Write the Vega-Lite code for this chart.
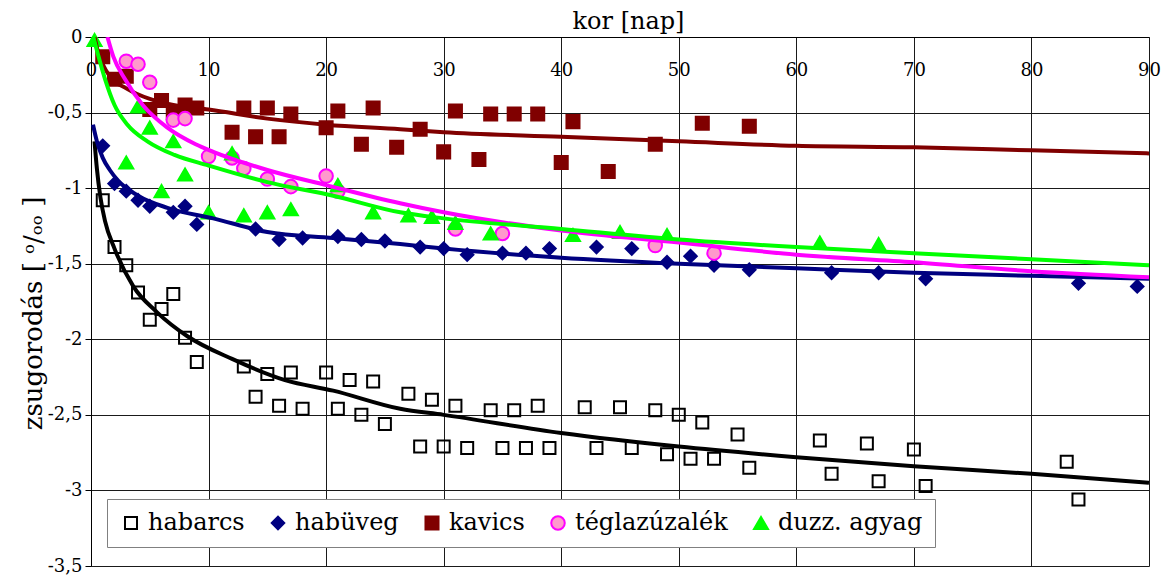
{
  "$schema": "https://vega.github.io/schema/vega-lite/v6.json",
  "width": 1058,
  "height": 529,
  "autosize": {"type": "none"},
  "padding": {"left": 91, "top": 37, "right": 16, "bottom": 13},
  "background": "white",
  "config": {
    "font": "DejaVu Serif",
    "view": {"stroke": null},
    "axis": {"domainColor": "black", "gridColor": "#1a1a1a", "tickColor": "black", "labelColor": "black", "titleColor": "black", "labelFont": "DejaVu Serif", "titleFont": "DejaVu Serif"},
    "legend": {"labelFont": "DejaVu Serif", "titleFont": "DejaVu Serif"}
  },
  "datasets": {
    "pts": [
      {"s": "habarcs", "x": 1, "y": -1.08}, {"s": "habarcs", "x": 2, "y": -1.39}, {"s": "habarcs", "x": 3, "y": -1.51}, {"s": "habarcs", "x": 4, "y": -1.69}, {"s": "habarcs", "x": 5, "y": -1.87}, {"s": "habarcs", "x": 6, "y": -1.8}, {"s": "habarcs", "x": 7, "y": -1.7}, {"s": "habarcs", "x": 8, "y": -1.99}, {"s": "habarcs", "x": 9, "y": -2.15},
      {"s": "habarcs", "x": 13, "y": -2.18}, {"s": "habarcs", "x": 14, "y": -2.38}, {"s": "habarcs", "x": 15, "y": -2.23}, {"s": "habarcs", "x": 16, "y": -2.44}, {"s": "habarcs", "x": 17, "y": -2.22}, {"s": "habarcs", "x": 18, "y": -2.46}, {"s": "habarcs", "x": 20, "y": -2.22}, {"s": "habarcs", "x": 21, "y": -2.46}, {"s": "habarcs", "x": 22, "y": -2.27}, {"s": "habarcs", "x": 23, "y": -2.5}, {"s": "habarcs", "x": 24, "y": -2.28}, {"s": "habarcs", "x": 25, "y": -2.56},
      {"s": "habarcs", "x": 27, "y": -2.36}, {"s": "habarcs", "x": 28, "y": -2.71}, {"s": "habarcs", "x": 29, "y": -2.4}, {"s": "habarcs", "x": 30, "y": -2.71}, {"s": "habarcs", "x": 31, "y": -2.44}, {"s": "habarcs", "x": 32, "y": -2.72}, {"s": "habarcs", "x": 34, "y": -2.47}, {"s": "habarcs", "x": 35, "y": -2.72}, {"s": "habarcs", "x": 36, "y": -2.47}, {"s": "habarcs", "x": 37, "y": -2.72}, {"s": "habarcs", "x": 38, "y": -2.44}, {"s": "habarcs", "x": 39, "y": -2.72},
      {"s": "habarcs", "x": 42, "y": -2.45}, {"s": "habarcs", "x": 43, "y": -2.72}, {"s": "habarcs", "x": 45, "y": -2.45}, {"s": "habarcs", "x": 46, "y": -2.72}, {"s": "habarcs", "x": 48, "y": -2.47}, {"s": "habarcs", "x": 49, "y": -2.76}, {"s": "habarcs", "x": 50, "y": -2.5}, {"s": "habarcs", "x": 51, "y": -2.79}, {"s": "habarcs", "x": 52, "y": -2.55}, {"s": "habarcs", "x": 53, "y": -2.79}, {"s": "habarcs", "x": 55, "y": -2.63}, {"s": "habarcs", "x": 56, "y": -2.85},
      {"s": "habarcs", "x": 62, "y": -2.67}, {"s": "habarcs", "x": 63, "y": -2.89}, {"s": "habarcs", "x": 66, "y": -2.69}, {"s": "habarcs", "x": 67, "y": -2.94}, {"s": "habarcs", "x": 70, "y": -2.73}, {"s": "habarcs", "x": 71, "y": -2.97}, {"s": "habarcs", "x": 83, "y": -2.81}, {"s": "habarcs", "x": 84, "y": -3.06},
      {"s": "habüveg", "x": 1, "y": -0.72}, {"s": "habüveg", "x": 2, "y": -0.97}, {"s": "habüveg", "x": 3, "y": -1.02}, {"s": "habüveg", "x": 4, "y": -1.08}, {"s": "habüveg", "x": 5, "y": -1.12}, {"s": "habüveg", "x": 7, "y": -1.16}, {"s": "habüveg", "x": 8, "y": -1.12}, {"s": "habüveg", "x": 9, "y": -1.24},
      {"s": "habüveg", "x": 14, "y": -1.27}, {"s": "habüveg", "x": 16, "y": -1.34}, {"s": "habüveg", "x": 18, "y": -1.33}, {"s": "habüveg", "x": 21, "y": -1.32}, {"s": "habüveg", "x": 23, "y": -1.34}, {"s": "habüveg", "x": 25, "y": -1.35}, {"s": "habüveg", "x": 28, "y": -1.39}, {"s": "habüveg", "x": 30, "y": -1.4}, {"s": "habüveg", "x": 32, "y": -1.44}, {"s": "habüveg", "x": 35, "y": -1.43}, {"s": "habüveg", "x": 37, "y": -1.43}, {"s": "habüveg", "x": 39, "y": -1.4},
      {"s": "habüveg", "x": 43, "y": -1.39}, {"s": "habüveg", "x": 46, "y": -1.4}, {"s": "habüveg", "x": 49, "y": -1.49}, {"s": "habüveg", "x": 51, "y": -1.45}, {"s": "habüveg", "x": 53, "y": -1.51}, {"s": "habüveg", "x": 56, "y": -1.54}, {"s": "habüveg", "x": 63, "y": -1.56}, {"s": "habüveg", "x": 67, "y": -1.56}, {"s": "habüveg", "x": 71, "y": -1.6}, {"s": "habüveg", "x": 84, "y": -1.63}, {"s": "habüveg", "x": 89, "y": -1.65},
      {"s": "kavics", "x": 1, "y": -0.13}, {"s": "kavics", "x": 2, "y": -0.28}, {"s": "kavics", "x": 3, "y": -0.26}, {"s": "kavics", "x": 5, "y": -0.48}, {"s": "kavics", "x": 6, "y": -0.42}, {"s": "kavics", "x": 7, "y": -0.5}, {"s": "kavics", "x": 8, "y": -0.45}, {"s": "kavics", "x": 9, "y": -0.47},
      {"s": "kavics", "x": 12, "y": -0.63}, {"s": "kavics", "x": 13, "y": -0.47}, {"s": "kavics", "x": 14, "y": -0.66}, {"s": "kavics", "x": 15, "y": -0.47}, {"s": "kavics", "x": 16, "y": -0.66}, {"s": "kavics", "x": 17, "y": -0.51}, {"s": "kavics", "x": 20, "y": -0.6}, {"s": "kavics", "x": 21, "y": -0.49}, {"s": "kavics", "x": 23, "y": -0.71}, {"s": "kavics", "x": 24, "y": -0.47}, {"s": "kavics", "x": 26, "y": -0.73},
      {"s": "kavics", "x": 28, "y": -0.61}, {"s": "kavics", "x": 30, "y": -0.76}, {"s": "kavics", "x": 31, "y": -0.49}, {"s": "kavics", "x": 33, "y": -0.81}, {"s": "kavics", "x": 34, "y": -0.51}, {"s": "kavics", "x": 36, "y": -0.51}, {"s": "kavics", "x": 38, "y": -0.51}, {"s": "kavics", "x": 40, "y": -0.83}, {"s": "kavics", "x": 41, "y": -0.56}, {"s": "kavics", "x": 44, "y": -0.89}, {"s": "kavics", "x": 48, "y": -0.71}, {"s": "kavics", "x": 52, "y": -0.57}, {"s": "kavics", "x": 56, "y": -0.59},
      {"s": "téglazúzalék", "x": 3, "y": -0.16}, {"s": "téglazúzalék", "x": 4, "y": -0.18}, {"s": "téglazúzalék", "x": 5, "y": -0.3}, {"s": "téglazúzalék", "x": 7, "y": -0.55}, {"s": "téglazúzalék", "x": 8, "y": -0.54}, {"s": "téglazúzalék", "x": 10, "y": -0.79}, {"s": "téglazúzalék", "x": 12, "y": -0.8}, {"s": "téglazúzalék", "x": 13, "y": -0.87}, {"s": "téglazúzalék", "x": 15, "y": -0.94}, {"s": "téglazúzalék", "x": 17, "y": -0.99}, {"s": "téglazúzalék", "x": 20, "y": -0.92}, {"s": "téglazúzalék", "x": 21, "y": -1.02},
      {"s": "téglazúzalék", "x": 31, "y": -1.27}, {"s": "téglazúzalék", "x": 35, "y": -1.3}, {"s": "téglazúzalék", "x": 48, "y": -1.38}, {"s": "téglazúzalék", "x": 53, "y": -1.43},
      {"s": "duzz. agyag", "x": 0.3, "y": -0.02}, {"s": "duzz. agyag", "x": 3, "y": -0.83}, {"s": "duzz. agyag", "x": 4, "y": -0.46}, {"s": "duzz. agyag", "x": 5, "y": -0.6}, {"s": "duzz. agyag", "x": 6, "y": -1.02}, {"s": "duzz. agyag", "x": 7, "y": -0.69}, {"s": "duzz. agyag", "x": 8, "y": -0.91}, {"s": "duzz. agyag", "x": 10, "y": -1.16}, {"s": "duzz. agyag", "x": 12, "y": -0.77}, {"s": "duzz. agyag", "x": 13, "y": -1.18}, {"s": "duzz. agyag", "x": 15, "y": -1.16}, {"s": "duzz. agyag", "x": 17, "y": -1.14}, {"s": "duzz. agyag", "x": 21, "y": -0.98}, {"s": "duzz. agyag", "x": 24, "y": -1.16},
      {"s": "duzz. agyag", "x": 27, "y": -1.18}, {"s": "duzz. agyag", "x": 29, "y": -1.19}, {"s": "duzz. agyag", "x": 31, "y": -1.23}, {"s": "duzz. agyag", "x": 34, "y": -1.3}, {"s": "duzz. agyag", "x": 41, "y": -1.31}, {"s": "duzz. agyag", "x": 45, "y": -1.29}, {"s": "duzz. agyag", "x": 49, "y": -1.31}, {"s": "duzz. agyag", "x": 62, "y": -1.36}, {"s": "duzz. agyag", "x": 67, "y": -1.37}
    ],
    "lines": [
      {"s": "habarcs", "x": 0.3, "y": -0.69}, {"s": "habarcs", "x": 0.5, "y": -0.87}, {"s": "habarcs", "x": 0.8, "y": -1.06}, {"s": "habarcs", "x": 1.2, "y": -1.22}, {"s": "habarcs", "x": 2, "y": -1.4}, {"s": "habarcs", "x": 3.6, "y": -1.65}, {"s": "habarcs", "x": 5.6, "y": -1.82}, {"s": "habarcs", "x": 8.2, "y": -1.98}, {"s": "habarcs", "x": 12, "y": -2.13}, {"s": "habarcs", "x": 16.5, "y": -2.27}, {"s": "habarcs", "x": 20.6, "y": -2.34}, {"s": "habarcs", "x": 26.3, "y": -2.46}, {"s": "habarcs", "x": 30, "y": -2.5}, {"s": "habarcs", "x": 40, "y": -2.62}, {"s": "habarcs", "x": 50, "y": -2.71}, {"s": "habarcs", "x": 60, "y": -2.78}, {"s": "habarcs", "x": 70, "y": -2.84}, {"s": "habarcs", "x": 80, "y": -2.89}, {"s": "habarcs", "x": 90, "y": -2.95},
      {"s": "habüveg", "x": 0.17, "y": -0.58}, {"s": "habüveg", "x": 0.5, "y": -0.69}, {"s": "habüveg", "x": 1, "y": -0.8}, {"s": "habüveg", "x": 1.6, "y": -0.88}, {"s": "habüveg", "x": 2.3, "y": -0.95}, {"s": "habüveg", "x": 4, "y": -1.05}, {"s": "habüveg", "x": 6.5, "y": -1.13}, {"s": "habüveg", "x": 10.4, "y": -1.2}, {"s": "habüveg", "x": 15, "y": -1.29}, {"s": "habüveg", "x": 20.6, "y": -1.33}, {"s": "habüveg", "x": 26.3, "y": -1.37}, {"s": "habüveg", "x": 30, "y": -1.4}, {"s": "habüveg", "x": 40, "y": -1.46}, {"s": "habüveg", "x": 50, "y": -1.5}, {"s": "habüveg", "x": 60, "y": -1.53}, {"s": "habüveg", "x": 70, "y": -1.56}, {"s": "habüveg", "x": 80, "y": -1.58}, {"s": "habüveg", "x": 90, "y": -1.6},
      {"s": "kavics", "x": 0.3, "y": 0}, {"s": "kavics", "x": 0.6, "y": -0.1}, {"s": "kavics", "x": 1, "y": -0.18}, {"s": "kavics", "x": 1.6, "y": -0.26}, {"s": "kavics", "x": 3, "y": -0.34}, {"s": "kavics", "x": 5, "y": -0.41}, {"s": "kavics", "x": 7, "y": -0.45}, {"s": "kavics", "x": 10, "y": -0.48}, {"s": "kavics", "x": 15, "y": -0.54}, {"s": "kavics", "x": 20, "y": -0.58}, {"s": "kavics", "x": 26.3, "y": -0.61}, {"s": "kavics", "x": 30, "y": -0.63}, {"s": "kavics", "x": 40, "y": -0.66}, {"s": "kavics", "x": 50, "y": -0.69}, {"s": "kavics", "x": 60, "y": -0.72}, {"s": "kavics", "x": 70, "y": -0.73}, {"s": "kavics", "x": 80, "y": -0.75}, {"s": "kavics", "x": 90, "y": -0.77},
      {"s": "téglazúzalék", "x": 1.4, "y": 0}, {"s": "téglazúzalék", "x": 1.9, "y": -0.13}, {"s": "téglazúzalék", "x": 2.9, "y": -0.28}, {"s": "téglazúzalék", "x": 4.4, "y": -0.45}, {"s": "téglazúzalék", "x": 6.5, "y": -0.6}, {"s": "téglazúzalék", "x": 8.9, "y": -0.71}, {"s": "téglazúzalék", "x": 10.4, "y": -0.76}, {"s": "téglazúzalék", "x": 15, "y": -0.88}, {"s": "téglazúzalék", "x": 20, "y": -0.98}, {"s": "téglazúzalék", "x": 26.3, "y": -1.1}, {"s": "téglazúzalék", "x": 30, "y": -1.16}, {"s": "téglazúzalék", "x": 40, "y": -1.28}, {"s": "téglazúzalék", "x": 50, "y": -1.36}, {"s": "téglazúzalék", "x": 60, "y": -1.44}, {"s": "téglazúzalék", "x": 70, "y": -1.49}, {"s": "téglazúzalék", "x": 80, "y": -1.55}, {"s": "téglazúzalék", "x": 90, "y": -1.59},
      {"s": "duzz. agyag", "x": 0.2, "y": 0}, {"s": "duzz. agyag", "x": 1.2, "y": -0.28}, {"s": "duzz. agyag", "x": 2, "y": -0.45}, {"s": "duzz. agyag", "x": 3.1, "y": -0.58}, {"s": "duzz. agyag", "x": 4.8, "y": -0.69}, {"s": "duzz. agyag", "x": 7.1, "y": -0.78}, {"s": "duzz. agyag", "x": 10, "y": -0.85}, {"s": "duzz. agyag", "x": 15, "y": -0.96}, {"s": "duzz. agyag", "x": 20.6, "y": -1.05}, {"s": "duzz. agyag", "x": 26.3, "y": -1.16}, {"s": "duzz. agyag", "x": 30, "y": -1.2}, {"s": "duzz. agyag", "x": 40, "y": -1.27}, {"s": "duzz. agyag", "x": 50, "y": -1.34}, {"s": "duzz. agyag", "x": 60, "y": -1.39}, {"s": "duzz. agyag", "x": 70, "y": -1.43}, {"s": "duzz. agyag", "x": 80, "y": -1.47}, {"s": "duzz. agyag", "x": 90, "y": -1.51}
    ]
  },
  "encoding": {
    "x": {
      "field": "x", "type": "quantitative",
      "scale": {"domain": [0, 90], "nice": false, "zero": false},
      "axis": {"orient": "top", "values": [0, 10, 20, 30, 40, 50, 60, 70, 80, 90], "tickSize": 0, "ticks": false, "labelPadding": -38, "labelBaseline": "alphabetic", "labelFont": "DejaVu Serif", "labelFontSize": 18, "labelFlush": false, "labelOverlap": false, "grid": true, "gridWidth": 1, "title": "kor [nap]", "titleFont": "DejaVu Serif", "titleFontSize": 24, "titleFontWeight": "normal", "titleX": 537, "titleY": -9, "titleBaseline": "alphabetic", "titleAlign": "center", "titleAnchor": null}
    },
    "y": {
      "field": "y", "type": "quantitative",
      "scale": {"domain": [-3.5, 0], "nice": false, "zero": false},
      "axis": {"orient": "left", "values": [0, -0.5, -1, -1.5, -2, -2.5, -3, -3.5], "tickSize": 6, "labelPadding": 3, "labelFont": "DejaVu Serif", "labelFontSize": 18, "labelFlush": false, "labelOverlap": false, "labelExpr": "replace(toString(datum.value), '.', ',')", "grid": true, "gridWidth": 1, "title": "zsugorodás [ ᵒ/ₒₒ ]", "titleFont": "DejaVu Serif", "titleFontSize": 26, "titleFontWeight": "normal", "titleAngle": 270, "titleX": -58, "titleY": 276, "titleBaseline": "middle", "titleAlign": "center", "titleAnchor": null}
    }
  },
  "layer": [
    {
      "data": {"name": "pts"},
      "mark": {"type": "point", "strokeWidth": 2, "opacity": 1},
      "encoding": {
        "shape": {"field": "s", "type": "nominal", "scale": {"domain": ["habarcs", "habüveg", "kavics", "téglazúzalék", "duzz. agyag"], "range": ["square", "diamond", "square", "circle", "triangle-up"]}, "legend": {"title": null, "orient": "none", "legendX": 16, "legendY": 462, "direction": "horizontal", "columns": 5, "fillColor": "white", "strokeColor": "#808080", "padding": 12, "labelFont": "DejaVu Serif", "labelFontSize": 24, "labelLimit": 0, "labelColor": "black", "labelOffset": 5, "columnPadding": 21, "symbolStrokeWidth": 2, "symbolOpacity": 1}},
        "fill": {"field": "s", "type": "nominal", "scale": {"domain": ["habarcs", "habüveg", "kavics", "téglazúzalék", "duzz. agyag"], "range": ["transparent", "#000080", "#800000", "#FF99CC", "#00FF00"]}, "legend": {"title": null, "orient": "none", "legendX": 16, "legendY": 462, "direction": "horizontal", "columns": 5, "fillColor": "white", "strokeColor": "#808080", "padding": 12, "labelFont": "DejaVu Serif", "labelFontSize": 24, "labelLimit": 0, "labelColor": "black", "labelOffset": 5, "columnPadding": 21, "symbolStrokeWidth": 2, "symbolOpacity": 1}},
        "stroke": {"field": "s", "type": "nominal", "scale": {"domain": ["habarcs", "habüveg", "kavics", "téglazúzalék", "duzz. agyag"], "range": ["#000000", "#000080", "#800000", "#FF00FF", "#00FF00"]}, "legend": {"title": null, "orient": "none", "legendX": 16, "legendY": 462, "direction": "horizontal", "columns": 5, "fillColor": "white", "strokeColor": "#808080", "padding": 12, "labelFont": "DejaVu Serif", "labelFontSize": 24, "labelLimit": 0, "labelColor": "black", "labelOffset": 5, "columnPadding": 21, "symbolStrokeWidth": 2, "symbolOpacity": 1}},
        "size": {"field": "s", "type": "nominal", "scale": {"domain": ["habarcs", "habüveg", "kavics", "téglazúzalék", "duzz. agyag"], "range": [144, 196, 169, 121, 196]}, "legend": {"title": null, "orient": "none", "legendX": 16, "legendY": 462, "direction": "horizontal", "columns": 5, "fillColor": "white", "strokeColor": "#808080", "padding": 12, "labelFont": "DejaVu Serif", "labelFontSize": 24, "labelLimit": 0, "labelColor": "black", "labelOffset": 5, "columnPadding": 21, "symbolStrokeWidth": 2, "symbolOpacity": 1}}
      }
    },
    {
      "data": {"name": "lines"},
      "mark": {"type": "line", "strokeWidth": 4, "interpolate": "monotone", "clip": true},
      "encoding": {
        "color": {"field": "s", "type": "nominal", "scale": {"domain": ["habarcs", "habüveg", "kavics", "téglazúzalék", "duzz. agyag"], "range": ["#000000", "#000080", "#800000", "#FF00FF", "#00FF00"]}, "legend": null}
      }
    }
  ]
}
